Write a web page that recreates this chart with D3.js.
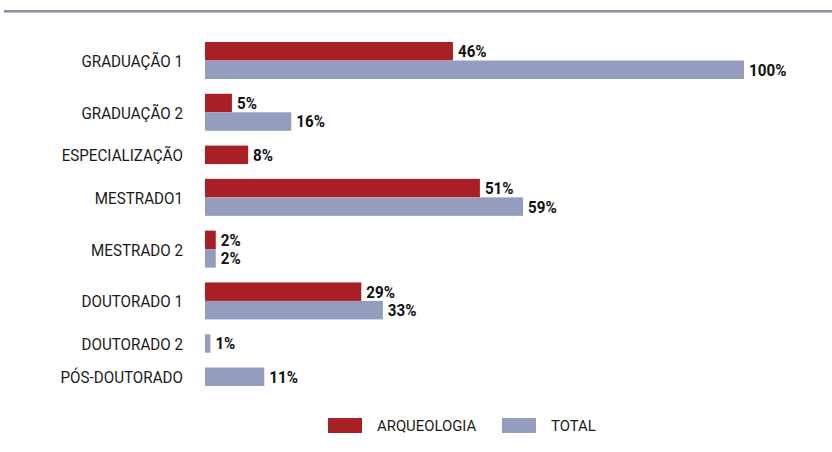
<!DOCTYPE html>
<html>
<head>
<meta charset="utf-8">
<script src="https://cdn.jsdelivr.net/npm/d3@7"></script>
<style>
  html, body { margin: 0; padding: 0; background: #fff; }
  svg { display: block; }
</style>
</head>
<body>
<svg id="chart" width="832" height="452"></svg>
<script>
// Categories and values (percent); null = no bar for that series
const categories = ["GRADUAÇÃO 1", "GRADUAÇÃO 2", "ESPECIALIZAÇÃO", "MESTRADO1", "MESTRADO 2", "DOUTORADO 1", "DOUTORADO 2", "PÓS-DOUTORADO"];
const arqueologia = [46, 5, 8, 51, 2, 29, null, null];
const total = [100, 16, null, 59, 2, 33, 1, 11];
const seriesNames = ["ARQUEOLOGIA", "TOTAL"];
const seriesColors = ["#a81f26", "#959dbe"];

const svg = d3.select("#chart");

// narrow the glyphs horizontally for a condensed look
function condense(sel, ratio) {
  sel.each(function () {
    const len = this.getComputedTextLength();
    d3.select(this).attr("textLength", len * ratio).attr("lengthAdjust", "spacingAndGlyphs");
  });
}

// header rule
svg.append("rect").attr("x", 4).attr("y", 10).attr("width", 828).attr("height", 2.6).attr("fill", "#8b90b0");

// Build bar slots: each category takes as many slots as it has values,
// followed by a gap between categories.
const gapUnits = 0.8;
const rows = [];
let cursor = 0;
categories.forEach((cat, i) => {
  const vals = [arqueologia[i], total[i]];
  const bars = [];
  vals.forEach((v, s) => {
    if (v !== null) bars.push({ cat, series: s, value: v });
  });
  const start = cursor;
  bars.forEach((b, k) => { b.slot = start + k; });
  cursor += bars.length;
  rows.push({ cat, start, end: cursor, bars });
  if (i < categories.length - 1) cursor += gapUnits;
});
const totalUnits = cursor;

const x = d3.scaleLinear().domain([0, 100]).range([205, 744]);
const y = d3.scaleLinear().domain([0, totalUnits]).range([42, 386]);

const allBars = rows.flatMap(r => r.bars);

svg.append("g").selectAll("rect")
  .data(allBars)
  .join("rect")
  .attr("x", x(0))
  .attr("y", d => y(d.slot))
  .attr("width", d => x(d.value) - x(0))
  .attr("height", d => y(d.slot + 1) - y(d.slot))
  .attr("fill", d => seriesColors[d.series]);

// value labels
svg.append("g").selectAll("text")
  .data(allBars)
  .join("text")
  .attr("x", d => x(d.value) + 5)
  .attr("y", d => (y(d.slot) + y(d.slot + 1)) / 2)
  .attr("dy", "0.36em")
  .attr("font-family", "Roboto, sans-serif")
  .attr("font-weight", "bold")
  .attr("font-size", 16.5)
  .attr("fill", "#111")
  .text(d => d.value + "%")
  .call(condense, 0.92);

// category labels
svg.append("g").selectAll("text")
  .data(rows)
  .join("text")
  .attr("x", 183)
  .attr("y", d => (y(d.start) + y(d.end)) / 2 + 0.5)
  .attr("dy", "0.36em")
  .attr("text-anchor", "end")
  .attr("font-family", "Roboto, sans-serif")
  .attr("font-size", 16.5)
  .attr("fill", "#1a1a1a")
  .text(d => d.cat)
  .call(condense, 0.92);

// legend
const legendX = [328, 502];
const legend = svg.append("g").selectAll("g")
  .data(seriesNames)
  .join("g")
  .attr("transform", (d, i) => `translate(${legendX[i]},418)`);
legend.append("rect").attr("width", 34).attr("height", 15).attr("fill", (d, i) => seriesColors[i]);
legend.append("text")
  .attr("x", 49).attr("y", 7.5).attr("dy", "0.36em")
  .attr("font-family", "Roboto, sans-serif")
  .attr("font-size", 15.5)
  .attr("fill", "#1a1a1a")
  .text(d => d)
  .call(condense, 0.96);
</script>
</body>
</html>
